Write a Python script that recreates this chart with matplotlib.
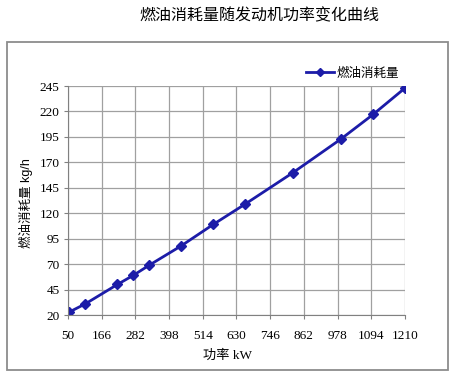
import matplotlib.pyplot as plt
from matplotlib.patches import Rectangle

plt.rcParams["font.family"] = ["Liberation Serif", "Noto Sans CJK SC"]

# 功率 kW / 燃油消耗量 kg/h
power = [55, 110, 220, 275, 330, 440, 550, 660, 825, 990, 1100, 1210]
fuel = [23, 31, 50, 59, 69, 88, 109, 129, 160, 193, 217, 243]
x_ticks = [50, 166, 282, 398, 514, 630, 746, 862, 978, 1094, 1210]
y_ticks = [20, 45, 70, 95, 120, 145, 170, 195, 220, 245]

fig = plt.figure(figsize=(4.56, 3.77), dpi=100)
ax = fig.add_axes([68 / 456, 1 - 315 / 377, 337 / 456, 229 / 377])

# 外框
fig.patches.append(Rectangle((7 / 456, 1 - 370 / 377), 441 / 456, 328 / 377,
                             transform=fig.transFigure, fill=False,
                             edgecolor="#8c8c8c", linewidth=1.3))

ax.plot(power, fuel, color="#1c1ca8", linewidth=2, marker="D", markersize=5,
        label="燃油消耗量")

ax.set_xlim(50, 1210)
ax.set_ylim(20, 245)
ax.set_xticks(x_ticks)
ax.set_yticks(y_ticks)
ax.grid(True, color="#a0a0a0", linewidth=0.9)
ax.tick_params(labelsize=9.5, length=3, color="#808080", pad=8)
ax.tick_params(axis="y", pad=3)
for s in ["top", "right"]:
    ax.spines[s].set_visible(False)
for s in ["left", "bottom"]:
    ax.spines[s].set_color("#808080")

ax.set_xlabel("功率 kW", fontsize=9.5, family=["Liberation Serif", "Noto Sans CJK SC"])
ax.xaxis.set_label_coords((228 - 68) / 337, -(350 - 315) / 229)
ax.set_ylabel("燃油消耗量 kg/h", fontsize=9, family=["Liberation Sans", "Noto Sans CJK SC"])
ax.yaxis.set_label_coords(-(68 - 33) / 337, (315 - 203) / 229)

fig.text(259 / 456, 1 - 16 / 377, "燃油消耗量随发动机功率变化曲线", fontsize=11.5,
         family=["Noto Sans CJK SC"], ha="center", va="center")

ax.legend(loc="center right", bbox_to_anchor=(410 / 456, 1 - 73 / 377),
          bbox_transform=fig.transFigure, frameon=False,
          prop={"family": "Noto Sans CJK SC", "size": 9},
          handlelength=2.2, handletextpad=0.2, markerscale=0.8)

fig.savefig("out.png", dpi=100)
